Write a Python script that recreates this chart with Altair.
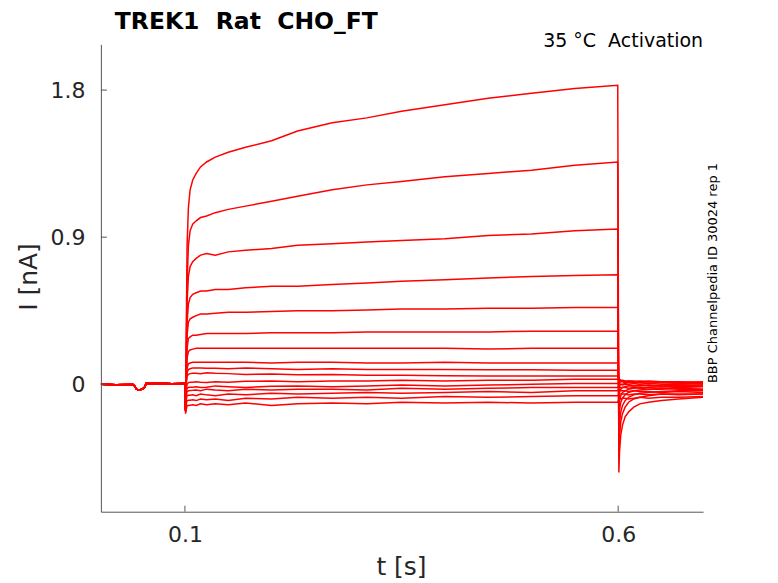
import altair as alt
import pandas as pd

FONT = "DejaVu Sans"
RED = "#ff0000"
NB = "\u00a0"

# ---- time bases (s) ----
PRE_T = [0.003, 0.02, 0.04, 0.042, 0.044, 0.047, 0.051, 0.054, 0.055, 0.07, 0.085, 0.0995]
PRE_I = [0.0, -0.003, -0.002, -0.01, -0.03, -0.035, -0.03, -0.015, 0.004, 0.006, 0.003, 0.005]

PULSE_T = [0.1, 0.1008, 0.1016, 0.1025, 0.104, 0.106, 0.109, 0.113, 0.118, 0.125, 0.135,
           0.15, 0.17, 0.2, 0.23, 0.27, 0.31, 0.35, 0.4, 0.45, 0.5, 0.55, 0.5995]
TAIL_T = [0.6008, 0.6015, 0.603, 0.605, 0.608, 0.612, 0.618, 0.625, 0.635, 0.65, 0.67, 0.698]

# ---- current during the step (nA), one list per sweep ----
PULSE_I = [
    [0.0, -0.16, 0.35, 0.85, 1.08, 1.19, 1.25, 1.29, 1.33, 1.36, 1.39, 1.42, 1.45, 1.49, 1.55, 1.60, 1.63, 1.67, 1.71, 1.75, 1.78, 1.81, 1.83],
    [0.0, -0.16, 0.25, 0.62, 0.85, 0.94, 0.98, 1.0, 1.02, 1.03, 1.05, 1.07, 1.09, 1.12, 1.15, 1.19, 1.22, 1.24, 1.27, 1.29, 1.31, 1.34, 1.36],
    [0.0, -0.16, 0.2, 0.5, 0.66, 0.72, 0.75, 0.77, 0.79, 0.80, 0.79, 0.81, 0.82, 0.83, 0.85, 0.86, 0.87, 0.88, 0.89, 0.91, 0.92, 0.94, 0.95],
    [0.0, -0.16, 0.15, 0.38, 0.49, 0.53, 0.55, 0.56, 0.57, 0.57, 0.58, 0.58, 0.59, 0.60, 0.60, 0.61, 0.62, 0.63, 0.64, 0.65, 0.66, 0.665, 0.67],
    [0.0, -0.16, 0.1, 0.3, 0.38, 0.40, 0.41, 0.42, 0.43, 0.43, 0.435, 0.44, 0.44, 0.445, 0.45, 0.45, 0.455, 0.46, 0.46, 0.465, 0.465, 0.47, 0.47],
    [0.0, -0.16, 0.07, 0.22, 0.28, 0.29, 0.30, 0.30, 0.305, 0.31, 0.31, 0.31, 0.31, 0.315, 0.315, 0.315, 0.32, 0.32, 0.32, 0.32, 0.325, 0.325, 0.325],
    [0.0, -0.16, 0.05, 0.16, 0.2, 0.21, 0.215, 0.22, 0.22, 0.22, 0.22, 0.22, 0.22, 0.22, 0.22, 0.22, 0.22, 0.22, 0.22, 0.215, 0.22, 0.22, 0.22],
    [0.0, -0.16, 0.03, 0.1, 0.125, 0.13, 0.135, 0.135, 0.135, 0.135, 0.135, 0.135, 0.135, 0.13, 0.135, 0.135, 0.13, 0.13, 0.135, 0.13, 0.13, 0.13, 0.13],
    [0.0, -0.16, 0.02, 0.07, 0.09, 0.095, 0.1, 0.1, 0.1, 0.098, 0.098, 0.095, 0.1, 0.095, 0.09, 0.095, 0.09, 0.09, 0.09, 0.088, 0.088, 0.086, 0.086],
    [0.0, -0.16, 0.0, 0.05, 0.06, 0.065, 0.067, 0.067, 0.065, 0.07, 0.067, 0.065, 0.06, 0.062, 0.058, 0.06, 0.055, 0.055, 0.052, 0.05, 0.05, 0.05, 0.05],
    [0.0, -0.16, -0.03, 0.0, 0.01, 0.012, 0.012, 0.015, 0.012, 0.01, 0.015, 0.012, 0.018, 0.02, 0.015, 0.02, 0.02, 0.025, 0.02, 0.025, 0.025, 0.03, 0.03],
    [0.0, -0.16, -0.05, -0.025, -0.02, -0.018, -0.018, -0.015, -0.02, -0.018, -0.01, -0.015, -0.02, -0.012, -0.01, -0.015, -0.01, -0.005, -0.01, -0.005, 0.0, 0.005, 0.005],
    [0.0, -0.16, -0.07, -0.045, -0.04, -0.038, -0.037, -0.035, -0.04, -0.03, -0.035, -0.04, -0.03, -0.035, -0.03, -0.03, -0.035, -0.025, -0.03, -0.025, -0.02, -0.02, -0.02],
    [0.0, -0.16, -0.09, -0.07, -0.068, -0.067, -0.065, -0.07, -0.06, -0.065, -0.07, -0.06, -0.065, -0.055, -0.06, -0.055, -0.05, -0.055, -0.05, -0.045, -0.05, -0.04, -0.04],
    [0.0, -0.17, -0.12, -0.1, -0.098, -0.098, -0.095, -0.1, -0.09, -0.095, -0.09, -0.1, -0.085, -0.09, -0.08, -0.085, -0.08, -0.085, -0.075, -0.08, -0.075, -0.07, -0.07],
    [0.0, -0.18, -0.15, -0.13, -0.13, -0.128, -0.125, -0.13, -0.12, -0.125, -0.12, -0.125, -0.115, -0.13, -0.12, -0.115, -0.12, -0.11, -0.115, -0.11, -0.115, -0.11, -0.11],
]

# ---- tail current after the step (nA) ----
TAIL_I = [
    [-0.54, -0.42, -0.31, -0.25, -0.2, -0.17, -0.14, -0.12, -0.11, -0.10, -0.09, -0.08],
    [-0.44, -0.32, -0.23, -0.18, -0.14, -0.11, -0.09, -0.08, -0.07, -0.06, -0.06, -0.06],
    [-0.34, -0.24, -0.17, -0.13, -0.1, -0.08, -0.065, -0.055, -0.05, -0.045, -0.04, -0.04],
    [-0.24, -0.16, -0.11, -0.085, -0.065, -0.05, -0.04, -0.035, -0.03, -0.03, -0.025, -0.03],
    [-0.15, -0.1, -0.07, -0.05, -0.04, -0.03, -0.025, -0.02, -0.02, -0.015, -0.02, -0.015],
    [-0.08, -0.05, -0.03, -0.02, -0.015, -0.01, -0.01, -0.01, -0.005, -0.01, -0.005, -0.01],
    [-0.03, -0.01, 0.0, 0.0, 0.005, 0.0, 0.005, 0.0, 0.005, 0.0, 0.0, 0.005],
    [0.0, 0.01, 0.015, 0.015, 0.01, 0.015, 0.01, 0.01, 0.015, 0.01, 0.01, 0.01],
    [0.02, 0.025, 0.02, 0.02, 0.015, 0.02, 0.015, 0.02, 0.015, 0.015, 0.01, 0.015],
    [0.03, 0.03, 0.025, 0.025, 0.02, 0.02, 0.02, 0.015, 0.02, 0.015, 0.015, 0.01],
    [0.03, 0.025, 0.02, 0.02, 0.015, 0.01, 0.015, 0.01, 0.005, 0.01, 0.005, 0.0],
    [0.01, 0.0, 0.0, -0.005, 0.0, -0.005, -0.01, -0.005, -0.01, -0.01, -0.015, -0.01],
    [-0.01, -0.015, -0.02, -0.02, -0.02, -0.025, -0.02, -0.025, -0.03, -0.025, -0.03, -0.03],
    [-0.03, -0.035, -0.04, -0.04, -0.04, -0.045, -0.04, -0.045, -0.045, -0.05, -0.045, -0.05],
    [-0.06, -0.06, -0.06, -0.06, -0.06, -0.065, -0.06, -0.06, -0.065, -0.06, -0.065, -0.06],
    [-0.09, -0.09, -0.09, -0.085, -0.085, -0.09, -0.085, -0.08, -0.085, -0.08, -0.08, -0.075],
]

X_TICKS = [0.1, 0.6]
Y_TICKS = [0.0, 0.9, 1.8]
X_DOMAIN = [0.003, 0.698]
Y_DOMAIN = [-0.78, 2.08]

TITLE = "TREK1" + NB + " Rat" + NB + " CHO_FT"
CONDITION = "35 °C" + NB + " Activation"
SOURCE = "BBP Channelpedia ID 30024 rep 1"
X_LABEL = "t [s]"
Y_LABEL = "I [nA]"

rows = []
for k in range(len(PULSE_I)):
    ts = PRE_T + PULSE_T + TAIL_T
    vs = PRE_I + PULSE_I[k] + TAIL_I[k]
    for j, (t, v) in enumerate(zip(ts, vs)):
        rows.append({"t": t, "I": v, "sweep": k, "order": j})
df = pd.DataFrame(rows)

xscale = alt.Scale(domain=X_DOMAIN, nice=False, zero=False)
yscale = alt.Scale(domain=Y_DOMAIN, nice=False, zero=False)

W, H = 603, 468

lines = alt.Chart(df).mark_line(color=RED, strokeWidth=1.5, clip=True).encode(
    x=alt.X("t:Q", scale=xscale,
            axis=alt.Axis(values=X_TICKS, title="", grid=False, tickSize=0,
                          labelPadding=13, labelFontSize=22, labelFont=FONT,
                          labelColor="#262626", domainColor="#555555",
                          labelExpr="format(datum.value, '.1f')")),
    y=alt.Y("I:Q", scale=yscale,
            axis=alt.Axis(values=Y_TICKS, title="", grid=False, tickSize=0,
                          labelPadding=16, labelFontSize=22, labelFont=FONT,
                          labelColor="#262626", domainColor="#555555",
                          labelExpr="datum.value == 0 ? '0' : format(datum.value, '.1f')")),
    detail="sweep:N",
    order="order:Q",
)

xt = alt.Chart(pd.DataFrame({"t": X_TICKS})).mark_rule(color="#555555", strokeWidth=1).encode(
    x=alt.X("t:Q", scale=xscale), y=alt.value(H), y2=alt.value(H - 6))
yt = alt.Chart(pd.DataFrame({"I": Y_TICKS})).mark_rule(color="#555555", strokeWidth=1).encode(
    y=alt.Y("I:Q", scale=yscale), x=alt.value(0), x2=alt.value(6))

one = pd.DataFrame({"a": [0]})

def label(text, x, y, size, align="center", baseline="alphabetic", angle=0, weight="normal", color="#262626"):
    kw = dict(text=text, fontSize=size, font=FONT, align=align, baseline=baseline,
              fontWeight=weight, color=color)
    if angle:
        kw["angle"] = angle
    return alt.Chart(one).mark_text(**kw).encode(x=alt.value(x), y=alt.value(y))

title = label(TITLE, 14, -15, 23.5, align="left", weight="bold", color="#000000")
cond = label(CONDITION, W, 3, 19, align="right", color="#000000")
src = label(SOURCE, 617, 229, 13, angle=270, color="#000000")
xl = label(X_LABEL, 301, 531, 25)
yl = label(Y_LABEL, -64, 233, 25, angle=270)

chart = alt.layer(lines, xt, yt, title, cond, src, xl, yl).properties(
    width=W, height=H,
    autosize=alt.AutoSizeParams(type="none"),
    padding={"left": 93, "top": 36, "right": 67, "bottom": 70},
    background="white",
).configure_view(strokeWidth=0)

chart.save("out.html", embed_options={"renderer": "svg", "actions": False})
